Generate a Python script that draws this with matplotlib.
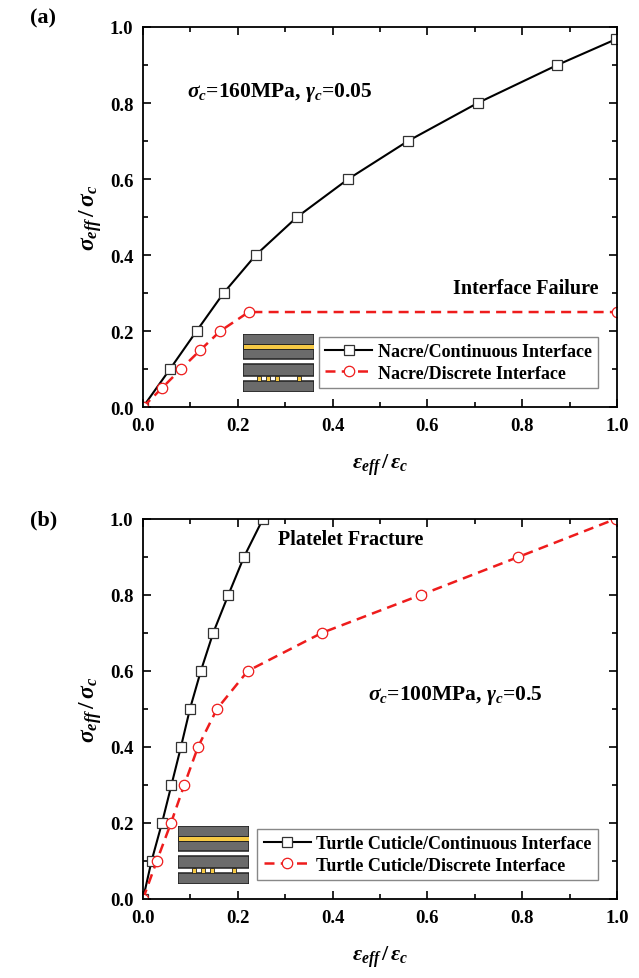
import matplotlib
matplotlib.use("Agg")
import matplotlib.pyplot as plt
from matplotlib.patches import Rectangle
from matplotlib.ticker import MultipleLocator

plt.rcParams['font.family'] = ['Liberation Serif', 'DejaVu Serif']
plt.rcParams['font.weight'] = 'bold'
plt.rcParams['mathtext.fontset'] = 'custom'
plt.rcParams['mathtext.rm'] = 'Liberation Serif:bold'
plt.rcParams['mathtext.it'] = 'Liberation Serif:italic:bold'
plt.rcParams['mathtext.bf'] = 'Liberation Serif:bold'

# ---- data (panel a: nacre) ----
a_cont_x = [0.0, 0.057, 0.113, 0.170, 0.238, 0.325, 0.433, 0.559, 0.706, 0.874, 0.998]
a_cont_y = [0.0, 0.1, 0.2, 0.3, 0.4, 0.5, 0.6, 0.7, 0.8, 0.9, 0.968]
a_disc_x = [0.0, 0.040, 0.080, 0.121, 0.163, 0.223, 1.0]
a_disc_y = [0.0, 0.05, 0.10, 0.15, 0.20, 0.25, 0.25]

# ---- data (panel b: turtle cuticle) ----
b_cont_x = [0.0, 0.018, 0.040, 0.060, 0.080, 0.099, 0.122, 0.148, 0.180, 0.213, 0.253]
b_cont_y = [0.0, 0.1, 0.2, 0.3, 0.4, 0.5, 0.6, 0.7, 0.8, 0.9, 1.0]
b_disc_x = [0.0, 0.029, 0.059, 0.087, 0.116, 0.156, 0.221, 0.377, 0.586, 0.792, 0.997]
b_disc_y = [0.0, 0.1, 0.2, 0.3, 0.4, 0.5, 0.6, 0.7, 0.8, 0.9, 1.0]

ticks = [0.0, 0.2, 0.4, 0.6, 0.8, 1.0]
tick_labels = ['0.0', '0.2', '0.4', '0.6', '0.8', '1.0']

fig = plt.figure(figsize=(6.39, 9.79), dpi=100)

def style_axes(ax):
    ax.set_xlim(0, 1)
    ax.set_ylim(0, 1)
    ax.set_xticks(ticks)
    ax.set_xticklabels(tick_labels)
    ax.set_yticks(ticks)
    ax.set_yticklabels(tick_labels)
    ax.xaxis.set_minor_locator(MultipleLocator(0.1))
    ax.yaxis.set_minor_locator(MultipleLocator(0.1))
    ax.tick_params(which='both', direction='in', top=True, right=True, width=1.2)
    ax.tick_params(which='major', length=6, labelsize=13.5, pad=7)
    ax.tick_params(which='minor', length=3.5)
    for lbl in ax.get_xticklabels() + ax.get_yticklabels():
        lbl.set_fontweight('bold')
    for s in ax.spines.values():
        s.set_linewidth(1.3)
    ax.set_xlabel(r'$\varepsilon_{eff}\,/\,\varepsilon_c$', fontsize=16, labelpad=13)
    ax.set_ylabel(r'$\sigma_{eff}\,/\,\sigma_c$', fontsize=17, labelpad=4)

def draw_series(ax, cx, cy, dx, dy, lab1, lab2):
    ax.plot(cx, cy, color='black', lw=1.5, marker='s', ms=6.5,
            mfc='white', mec='#333333', mew=0.9, label=lab1)
    ax.plot(dx, dy, color='#ee1c1c', lw=1.8, dashes=(4, 2.5), marker='o', ms=7.5,
            mfc='white', mec='#ee1c1c', mew=0.9, label=lab2)

def draw_inset(fig, rect):
    ia = fig.add_axes(rect)
    ia.set_xlim(0, 71)
    ia.set_ylim(58, 0)
    ia.axis('off')
    grey = '#6b6b6b'
    yel = '#f6c944'
    ec = '#222222'
    ia.add_patch(Rectangle((0, 0), 71, 25, fc=grey, ec=ec, lw=1.1))
    ia.add_patch(Rectangle((0, 9.5), 71, 5, fc=yel, ec=ec, lw=0.7))
    ia.add_patch(Rectangle((0, 30), 71, 12, fc=grey, ec=ec, lw=1.1))
    ia.add_patch(Rectangle((0, 47), 71, 11, fc=grey, ec=ec, lw=1.1))
    for px in [13.5, 23, 32, 53.5]:
        ia.add_patch(Rectangle((px, 42), 4, 5, fc=yel, ec=ec, lw=0.6))

def add_legend(ax, anchor):
    leg = ax.legend(loc='lower left', bbox_to_anchor=anchor, fontsize=13,
                    frameon=True, fancybox=False, edgecolor='#888888', framealpha=1,
                    handlelength=2.6, handletextpad=0.3, borderpad=0.35,
                    labelspacing=0.25, borderaxespad=0)
    leg.get_frame().set_linewidth(1.0)
    for t in leg.get_texts():
        t.set_fontweight('bold')
    return leg

# ---- panel (a) ----
ax1 = fig.add_axes([0.2238, 0.5832, 0.7418, 0.3882])
draw_series(ax1, a_cont_x, a_cont_y, a_disc_x, a_disc_y,
            'Nacre/Continuous Interface', 'Nacre/Discrete Interface')
style_axes(ax1)
ax1.text(0.093, 0.829, r'$\sigma_c$=160MPa, $\gamma_c$=0.05', fontsize=15.5,
         fontweight='bold', va='center', ha='left')
ax1.text(0.96, 0.314, 'Interface Failure', fontsize=14.5, fontweight='bold',
         ha='right', va='center')
add_legend(ax1, (0.371, 0.05))
fig.text(30 / 639, 1 - 18 / 979, '(a)', fontsize=16, fontweight='bold',
         ha='left', va='center')
draw_inset(fig, [243 / 639, 1 - 393 / 979, 71 / 639, 58 / 979])

# ---- panel (b) ----
ax2 = fig.add_axes([0.2238, 0.0807, 0.7418, 0.3882])
draw_series(ax2, b_cont_x, b_cont_y, b_disc_x, b_disc_y,
            'Turtle Cuticle/Continuous Interface', 'Turtle Cuticle/Discrete Interface')
style_axes(ax2)
ax2.text(0.284, 0.946, 'Platelet Fracture', fontsize=14.5, fontweight='bold',
         ha='left', va='center')
ax2.text(0.474, 0.538, r'$\sigma_c$=100MPa, $\gamma_c$=0.5', fontsize=15.5,
         fontweight='bold', va='center', ha='left')
add_legend(ax2, (0.241, 0.05))
fig.text(30 / 639, 1 - 520 / 979, '(b)', fontsize=16, fontweight='bold',
         ha='left', va='center')
draw_inset(fig, [178 / 639, 1 - 885 / 979, 71 / 639, 58 / 979])

fig.savefig('out.png', dpi=100)
